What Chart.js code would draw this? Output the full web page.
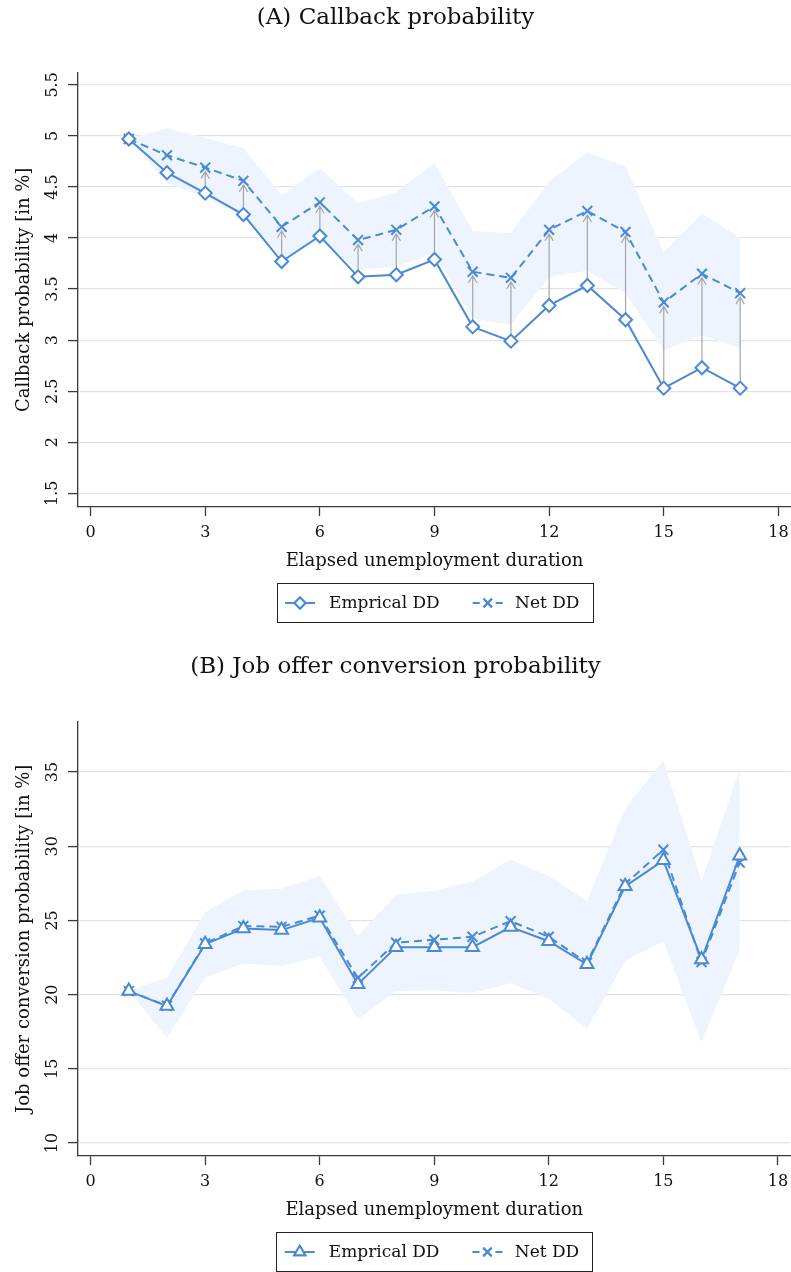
<!DOCTYPE html>
<html>
<head>
<meta charset="utf-8">
<script src="https://cdn.jsdelivr.net/npm/chart.js@4.4.1/dist/chart.umd.min.js"></script>
<style>
  html, body { margin: 0; padding: 0; background: #fff; overflow: hidden; width: 791px; height: 1272px; }
  .panel { position: absolute; left: 0; width: 800px; height: 650px; }
  #panelA { top: 0; }
  #panelB { top: 649px; }
</style>
</head>
<body>
<div class="panel" id="panelA"><canvas id="chartA" width="800" height="650"></canvas></div>
<div class="panel" id="panelB"><canvas id="chartB" width="800" height="650"></canvas></div>
<script>
// Elapsed unemployment duration (months)
const months = [1, 2, 3, 4, 5, 6, 7, 8, 9, 10, 11, 12, 13, 14, 15, 16, 17];

// (A) Callback probability [in %]
const callbackEmpirical = [4.97, 4.64, 4.44, 4.23, 3.77, 4.02, 3.62, 3.64, 3.79, 3.13, 2.99, 3.34, 3.535, 3.20, 2.53, 2.73, 2.53];
const callbackNet       = [4.97, 4.81, 4.69, 4.56, 4.11, 4.35, 3.98, 4.08, 4.31, 3.67, 3.61, 4.08, 4.265, 4.06, 3.37, 3.65, 3.46];
const callbackNetUpper  = [4.97, 5.075, 4.98, 4.88, 4.42, 4.68, 4.34, 4.45, 4.73, 4.07, 4.05, 4.55, 4.84, 4.70, 3.86, 4.24, 4.00];
const callbackNetLower  = [4.97, 4.54, 4.40, 4.20, 3.80, 3.98, 3.69, 3.72, 3.85, 3.21, 3.15, 3.62, 3.68, 3.46, 2.90, 3.05, 2.92];

// (B) Job offer conversion probability [in %]
const offerEmpirical = [20.24, 19.23, 23.4, 24.46, 24.35, 25.18, 20.7, 23.2, 23.2, 23.2, 24.55, 23.6, 22.04, 27.3, 29.05, 22.37, 29.36];
const offerNet       = [20.24, 19.25, 23.45, 24.62, 24.57, 25.32, 21.12, 23.5, 23.7, 23.9, 24.95, 23.9, 22.15, 27.45, 29.77, 22.2, 28.9];
const offerNetUpper  = [20.24, 21.15, 25.56, 27.02, 27.13, 28.0, 23.95, 26.73, 27.0, 27.63, 29.1, 28.0, 26.3, 32.56, 35.8, 27.65, 35.2];
const offerNetLower  = [20.24, 17.1, 21.15, 22.1, 21.92, 22.55, 18.34, 20.24, 20.29, 20.13, 20.76, 19.73, 17.7, 22.26, 23.6, 16.77, 23.0];

// Axis ticks
const xTickStep = 3;
const callbackTickStep = 0.5;
const offerTickStep = 5;

const seriesNames = ['Emprical DD', 'Net DD'];
const panelTitles = ['(A) Callback probability', '(B) Job offer conversion probability'];
const yTitles = ['Callback probability [in %]', 'Job offer conversion probability [in %]'];
const xTitle = 'Elapsed unemployment duration';

// ---- styling ----
const BLUE = '#4a89d3';
const BAND = '#edf4fd';
const GRID = '#e3e3e3';
const AXIS = '#3a3a3a';
const TEXT = '#111111';
const SERIF = "'DejaVu Serif', 'Liberation Serif', serif";

Chart.defaults.font.family = SERIF;
Chart.defaults.color = TEXT;

const pts = (ys) => months.map((m, i) => ({ x: m, y: ys[i] }));

// vertical arrows from the empirical to the net series
const gapArrows = {
  id: 'gapArrows',
  afterDatasetDraw(chart, args) {
    if (args.index !== 2) return;
    const from = chart.getDatasetMeta(0).data;
    const to = chart.getDatasetMeta(1).data;
    const ctx = chart.ctx;
    ctx.save();
    ctx.strokeStyle = '#a6a6a6';
    ctx.lineWidth = 1.2;
    for (let i = 0; i < to.length; i++) {
      const x = to[i].x;
      const y0 = from[i].y;
      const y1 = to[i].y + 4;
      if (y0 - y1 < 16) continue;
      ctx.beginPath();
      ctx.moveTo(x, y0);
      ctx.lineTo(x, y1);
      ctx.moveTo(x - 4.2, y1 + 7);
      ctx.lineTo(x, y1);
      ctx.lineTo(x + 4.2, y1 + 7);
      ctx.stroke();
    }
    ctx.restore();
  }
};

// boxed legend below the x axis title
const boxLegend = {
  id: 'boxLegend',
  afterDraw(chart) {
    const ctx = chart.ctx;
    const area = chart.chartArea;
    const cx = (area.left + area.right) / 2;
    const top = 583.5, h = 39, w = 316;
    ctx.save();
    ctx.strokeStyle = '#222';
    ctx.lineWidth = 1;
    ctx.strokeRect(Math.round(cx - w / 2) + 0.5, top, w, h);
    const cy = top + h / 2;
    const items = [
      { ds: chart.data.datasets[0], x0: cx - 149.5, textX: cx - 105.5 },
      { ds: chart.data.datasets[1], x0: cx + 38.2, textX: cx + 80.5 }
    ];
    items.forEach(it => {
      const ds = it.ds;
      const mx = it.x0 + 15;
      ctx.strokeStyle = ds.borderColor;
      ctx.lineWidth = 2;
      ctx.beginPath();
      if (ds.borderDash && ds.borderDash.length) {
        ctx.moveTo(it.x0, cy); ctx.lineTo(it.x0 + 7, cy);
        ctx.moveTo(it.x0 + 23, cy); ctx.lineTo(it.x0 + 30, cy);
      } else {
        ctx.moveTo(it.x0, cy); ctx.lineTo(it.x0 + 30, cy);
      }
      ctx.stroke();
      Chart.helpers.drawPoint(ctx, {
        pointStyle: ds.pointStyle,
        radius: ds.pointRadius * 0.85,
        borderWidth: 2,
        rotation: 0
      }, mx, cy);
      ctx.fillStyle = ds.pointBackgroundColor || '#fff';
      ctx.strokeStyle = ds.borderColor;
      ctx.lineWidth = 2;
      if (ds.pointStyle !== 'crossRot') ctx.fill();
      ctx.stroke();
      ctx.fillStyle = TEXT;
      ctx.font = "17px " + SERIF;
      ctx.textAlign = 'left';
      ctx.textBaseline = 'middle';
      ctx.fillText(ds.label, it.textX, cy + 1);
    });
    ctx.restore();
  }
};

function buildChart(canvasId, cfg) {
  const datasets = [
    {
      label: seriesNames[0],
      data: pts(cfg.emp),
      borderColor: BLUE,
      borderWidth: 2,
      pointStyle: cfg.empMarker,
      pointRadius: cfg.empRadius,
      pointBorderWidth: 2,
      pointBorderColor: BLUE,
      pointBackgroundColor: '#ffffff',
      fill: false,
      tension: 0,
      order: 1
    },
    {
      label: seriesNames[1],
      data: pts(cfg.net),
      borderColor: BLUE,
      borderWidth: 2,
      borderDash: [8, 5],
      pointStyle: 'crossRot',
      pointRadius: 7,
      pointBorderWidth: 2,
      pointBorderColor: BLUE,
      pointBackgroundColor: BLUE,
      fill: false,
      tension: 0,
      order: 2
    },
    {
      label: 'upper',
      data: pts(cfg.upper),
      borderWidth: 0,
      pointRadius: 0,
      backgroundColor: BAND,
      fill: '+1',
      tension: 0,
      order: 10
    },
    {
      label: 'lower',
      data: pts(cfg.lower),
      borderWidth: 0,
      pointRadius: 0,
      fill: false,
      tension: 0,
      order: 11
    }
  ];

  return new Chart(document.getElementById(canvasId), {
    type: 'line',
    data: { datasets },
    plugins: cfg.arrows ? [gapArrows, boxLegend] : [boxLegend],
    options: {
      responsive: false,
      animation: false,
      events: [],
      devicePixelRatio: 1,
      layout: { padding: { left: 0, right: 9, top: 0, bottom: 75 } },
      plugins: {
        legend: { display: false },
        tooltip: { enabled: false },
        title: {
          display: true,
          text: cfg.title,
          color: TEXT,
          font: { size: 23, weight: 'normal', family: SERIF, lineHeight: 1.2 },
          padding: { top: 4, bottom: 41 }
        }
      },
      scales: {
        x: {
          type: 'linear',
          min: -0.33,
          max: 18.33,
          afterFit: (s) => { s.height = 68; },
          border: { display: true, color: AXIS, width: 1.3 },
          grid: { display: true, drawOnChartArea: false, drawTicks: true, tickLength: 9, tickColor: AXIS, tickWidth: 1.3 },
          ticks: {
            stepSize: xTickStep,
            includeBounds: false,
            autoSkip: false,
            maxRotation: 0,
            padding: 7,
            color: TEXT,
            font: { size: 16, family: SERIF }
          },
          title: {
            display: true,
            text: xTitle,
            color: TEXT,
            font: { size: 18, family: SERIF, lineHeight: 1.2 },
            padding: { top: 0, bottom: 2.5 }
          }
        },
        y: {
          type: 'linear',
          min: cfg.yMin,
          max: cfg.yMax,
          afterFit: (s) => { s.width = 78; },
          border: { display: true, color: AXIS, width: 1.3 },
          grid: { display: true, drawOnChartArea: true, color: GRID, lineWidth: 1.2, drawTicks: true, tickLength: 10, tickColor: AXIS, tickWidth: 1.3 },
          ticks: {
            stepSize: cfg.yStep,
            includeBounds: false,
            autoSkip: false,
            minRotation: 90,
            maxRotation: 90,
            crossAlign: 'center',
            padding: cfg.yTickPad,
            color: TEXT,
            font: { size: 16, family: SERIF },
            callback: (v) => String(Math.round(v * 100) / 100)
          },
          title: {
            display: true,
            text: cfg.yTitle,
            color: TEXT,
            font: { size: 18, family: SERIF, lineHeight: 1.2 },
            padding: { top: 13.5, bottom: 0 }
          }
        }
      }
    }
  });
}

buildChart('chartA', {
  title: panelTitles[0],
  yTitle: yTitles[0],
  emp: callbackEmpirical,
  net: callbackNet,
  upper: callbackNetUpper,
  lower: callbackNetLower,
  empMarker: 'rectRot',
  empRadius: 6.5,
  yMin: 1.366,
  yMax: 5.62,
  yStep: callbackTickStep,
  yTickPad: 2,
  arrows: true
});

buildChart('chartB', {
  title: panelTitles[1],
  yTitle: yTitles[1],
  emp: offerEmpirical,
  net: offerNet,
  upper: offerNetUpper,
  lower: offerNetLower,
  empMarker: 'triangle',
  empRadius: 7.5,
  yMin: 9.126,
  yMax: 38.4,
  yStep: offerTickStep,
  yTickPad: 5,
  arrows: false
});
</script>
</body>
</html>
